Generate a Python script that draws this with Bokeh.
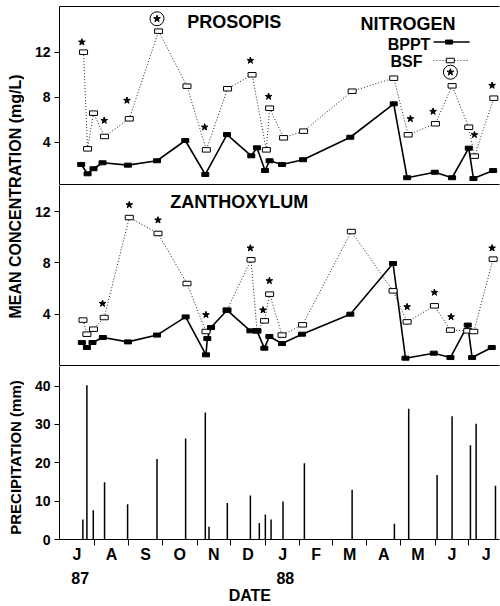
import math
from bokeh.plotting import figure
from bokeh.models import Range1d, FixedTicker, LinearAxis, Label
from bokeh.layouts import row, column
from bokeh.embed import file_html
from bokeh.resources import INLINE
from bokeh.core.properties import value

FONT = "Liberation Sans"

# ---------------- data (x = days since 1 July 1987) ----------------
month_letters = ["J", "A", "S", "O", "N", "D", "J", "F", "M", "A", "M", "J", "J"]
month_bounds = [0, 31, 62, 92, 123, 153, 184, 215, 244, 275, 305, 336, 366, 397]
year_labels = ["87", "88"]
year_days = [18.5, 202.0]

# PROSOPIS
pro_bppt_day = [19.4, 25.1, 30.4, 38.5, 61.2, 87.2, 112.5, 130.4, 149.8, 171.5, 176.6, 183.8,
                187.9, 199.0, 217.8, 260.1, 298.9, 310.9, 335.6, 351.1, 366.0, 370.2, 387.8]
pro_bppt_val = [2.02, 1.19, 1.64, 2.17, 1.96, 2.35, 4.15, 1.13, 4.68, 2.79, 3.50, 1.48,
                2.35, 2.02, 2.44, 4.44, 7.41, 0.84, 1.33, 0.84, 3.47, 0.77, 1.48]
pro_bsf_day = [21.5, 25.1, 30.4, 40.3, 62.4, 88.6, 114.0, 131.3, 150.3, 172.2, 185.0,
               187.9, 200.4, 218.3, 261.7, 298.9, 311.8, 336.2, 351.1, 366.0, 371.1, 388.4]
pro_bsf_val = [12.0, 3.41, 6.58, 4.51, 6.08, 13.87, 8.98, 3.32, 8.75, 9.99, 3.32,
               7.02, 4.39, 4.98, 8.53, 9.69, 4.66, 5.64, 9.01, 5.33, 2.76, 7.91]
pro_star_day = [20.0, 40.0, 60.3, 87.2, 129.8, 170.7, 187.0, 313.8, 334.1, 349.6, 371.1, 386.9]
pro_star_val = [12.89, 5.93, 7.71, 14.97, 5.33, 11.26, 8.06, 6.08, 6.73, 10.22, 4.66, 9.04]
pro_circ_day = [87.2, 349.6]
pro_circ_val = [14.97, 10.22]

# ZANTHOXYLUM
zan_bppt_day = [20.0, 24.5, 29.5, 38.8, 61.2, 87.2, 112.8, 131.0, 132.2, 135.5, 149.8, 170.7,
                176.6, 183.2, 187.7, 199.0, 216.9, 260.1, 298.3, 309.4, 334.7, 349.6, 365.1,
                369.0, 386.6]
zan_bppt_val = [1.79, 1.40, 1.79, 2.18, 1.84, 2.37, 3.79, 0.83, 2.10, 2.96, 4.31, 2.70,
                2.70, 1.35, 2.26, 1.71, 2.44, 4.00, 7.95, 0.57, 0.96, 0.62, 3.15,
                0.62, 1.40]
zan_bsf_day = [21.0, 24.5, 30.4, 40.0, 62.4, 88.1, 114.0, 131.0, 149.8, 171.3, 176.6, 183.4,
               187.9, 199.0, 217.4, 261.0, 298.3, 310.9, 335.3, 349.6, 365.1, 370.5, 387.8]
zan_bsf_val = [3.54, 2.44, 2.83, 3.74, 11.53, 10.29, 6.39, 2.65, 4.31, 8.24, 2.70, 3.48,
               5.56, 2.37, 3.17, 10.44, 5.82, 3.40, 4.65, 2.76, 2.70, 2.65, 8.29]
zan_star_day = [38.5, 62.4, 88.1, 131.0, 170.7, 182.0, 187.7, 310.9, 335.3, 350.2, 386.9]
zan_star_val = [4.83, 12.52, 11.33, 3.95, 9.15, 4.32, 6.60, 4.57, 5.69, 3.79, 9.15]

# PRECIPITATION
rain_day = [20.9, 24.5, 30.2, 40.3, 60.9, 87.2, 112.8, 130.4, 133.7, 150.1, 170.7, 178.7,
            184.1, 189.2, 199.9, 219.0, 261.7, 299.5, 312.3, 337.7, 351.1, 367.5, 372.6, 389.9]
rain_mm = [5.2, 40.2, 7.6, 14.9, 9.2, 21.0, 26.3, 33.1, 3.3, 9.5, 11.5, 4.3,
           6.5, 5.2, 9.9, 19.9, 13.0, 4.1, 34.1, 16.8, 32.1, 24.6, 30.2, 14.0]

conc_ticks = [4, 8, 12]
rain_ticks = [0, 10, 20, 30, 40]

# ---------------- helpers ----------------
xr = Range1d(0, 393.5)


def style_yaxis(p, ticks):
    ax = p.yaxis[0]
    ax.ticker = FixedTicker(ticks=ticks)
    ax.major_tick_out = 5
    ax.major_tick_in = 0
    ax.minor_tick_out = 0
    ax.minor_tick_in = 0
    ax.major_tick_line_color = "black"
    ax.axis_line_color = "black"
    ax.axis_line_width = 1
    ax.major_label_standoff = 4
    ax.major_label_text_font = FONT
    ax.major_label_text_font_style = "bold"
    ax.major_label_text_font_size = "14px"
    ax.major_label_text_color = "black"


def blank_xaxis(ax):
    ax.ticker = FixedTicker(ticks=[])
    ax.major_tick_out = 0
    ax.major_tick_in = 0
    ax.minor_tick_out = 0
    ax.minor_tick_in = 0
    ax.major_label_standoff = 0
    ax.major_label_text_font_size = "0px"
    ax.axis_line_color = "black"
    ax.axis_line_width = 1


def make_fig(height, y0, y1, top, bottom):
    p = figure(width=476, height=height, x_range=xr, y_range=Range1d(y0, y1),
               output_backend="svg", toolbar_location=None,
               min_border_left=35, min_border_right=1,
               min_border_top=top, min_border_bottom=bottom)
    p.outline_line_color = None
    p.grid.visible = False
    p.background_fill_color = "white"
    p.border_fill_color = "white"
    return p


def draw_conc(p, bd, bv, sd, sv, std, stv):
    p.line(sd, sv, line_color="#222222", line_width=1, line_dash="1 2")
    p.line(bd, bv, line_color="black", line_width=1.6)
    p.rect(x=sd, y=sv, width=8, height=4.5, width_units="screen", height_units="screen",
           fill_color="white", line_color="black", line_width=1)
    p.rect(x=bd, y=bv, width=7, height=4, width_units="screen", height_units="screen",
           fill_color="black", line_color="black")
    p.scatter(std, stv, marker="star", size=7, fill_color="black", line_color="black")


def label(p, x, y, text, size, align="left"):
    p.add_layout(Label(x=x, y=y, text=text, text_font=FONT, text_font_style="bold",
                       text_font_size=size, text_align=align, text_baseline="alphabetic",
                       text_color="black"))


# ---------------- top panel: PROSOPIS ----------------
p1 = make_fig(185, 0.24, 16.06, 6, 1)
style_yaxis(p1, conc_ticks)
blank_xaxis(p1.xaxis[0])
top_ax = LinearAxis()
blank_xaxis(top_ax)
p1.add_layout(top_ax, "above")
draw_conc(p1, pro_bppt_day, pro_bppt_val, pro_bsf_day, pro_bsf_val, pro_star_day, pro_star_val)
p1.scatter(pro_circ_day, pro_circ_val, marker="circle", size=14, fill_color=None,
           line_color="black", line_width=1)
label(p1, 114.3, 14.72, "PROSOPIS", "18px")
label(p1, 269.1, 14.48, "NITROGEN", "18px")
label(p1, 331.7, 12.72, "BPPT", "16px", "right")
label(p1, 324.6, 11.2, "BSF", "16px", "right")
# legend samples
p1.segment(x0=[334.5], y0=[12.9], x1=[366.7], y1=[12.9], line_color="black", line_width=1.6)
p1.rect(x=[348.4], y=[12.9], width=7, height=4, width_units="screen", height_units="screen",
        fill_color="black", line_color="black")
p1.segment(x0=[334.5], y0=[11.26], x1=[366.7], y1=[11.26], line_color="#222222", line_width=1,
           line_dash="1 2")
p1.rect(x=[349.5], y=[11.26], width=8, height=4.5, width_units="screen", height_units="screen",
        fill_color="white", line_color="black")

# ---------------- middle panel: ZANTHOXYLUM ----------------
p2 = make_fig(181, 0, 14.03, 0, 1)
style_yaxis(p2, conc_ticks)
blank_xaxis(p2.xaxis[0])
draw_conc(p2, zan_bppt_day, zan_bppt_val, zan_bsf_day, zan_bsf_val, zan_star_day, zan_star_val)
label(p2, 99.1, 12.76, "ZANTHOXYLUM", "18px")

# ---------------- bottom panel: precipitation ----------------
p3 = make_fig(240, 0, 45.1, 0, 66)
style_yaxis(p3, rain_ticks)
p3.segment(x0=rain_day, y0=0, x1=rain_day, y1=rain_mm, line_color="black", line_width=1.5)

month_centers = [(month_bounds[i] + month_bounds[i + 1]) / 2 for i in range(len(month_letters))]
xa = p3.xaxis[0]
xa.ticker = FixedTicker(ticks=month_centers, minor_ticks=month_bounds[1:13])
xa.major_label_overrides = {c: t for c, t in zip(month_centers, month_letters)}
xa.major_tick_out = 0
xa.major_tick_in = 0
xa.minor_tick_out = 6
xa.minor_tick_in = 0
xa.minor_tick_line_color = "black"
xa.axis_line_color = "black"
xa.major_label_standoff = 0
xa.major_label_text_font = FONT
xa.major_label_text_font_style = "bold"
xa.major_label_text_font_size = "16px"
xa.major_label_text_color = "black"


def text_axis(ticks, labels, standoff):
    ax = LinearAxis(ticker=FixedTicker(ticks=ticks),
                    major_label_overrides={t: s for t, s in zip(ticks, labels)})
    ax.axis_line_color = None
    ax.major_tick_line_color = None
    ax.minor_tick_line_color = None
    ax.major_tick_out = 0
    ax.major_tick_in = 0
    ax.minor_tick_out = 0
    ax.minor_tick_in = 0
    ax.major_label_standoff = standoff
    ax.major_label_text_font = FONT
    ax.major_label_text_font_style = "bold"
    ax.major_label_text_font_size = "16px"
    ax.major_label_text_color = "black"
    return ax


p3.add_layout(text_axis(year_days, year_labels, 6), "below")
p3.add_layout(text_axis([170.2], ["DATE"], 0), "below")

# ---------------- y-axis titles ----------------
lf = figure(width=24, height=606, x_range=Range1d(0, 24), y_range=Range1d(0, 606),
            output_backend="svg", toolbar_location=None, min_border=0,
            x_axis_type=None, y_axis_type=None)
lf.outline_line_color = None
lf.grid.visible = False
lf.text(x=[15], y=[410], text=["MEAN CONCENTRATION (mg/L)"], angle=math.pi / 2,
        text_align="center", text_baseline="middle", text_font=value(FONT),
        text_font_style="bold", text_font_size="16px", text_color="black")
lf.text(x=[15], y=[149], text=["PRECIPITATION (mm)"], angle=math.pi / 2,
        text_align="center", text_baseline="middle", text_font=value(FONT),
        text_font_style="bold", text_font_size="15px", text_color="black")

layout = row(lf, column(p1, p2, p3))
open("out.html", "w").write(file_html(layout, INLINE))
